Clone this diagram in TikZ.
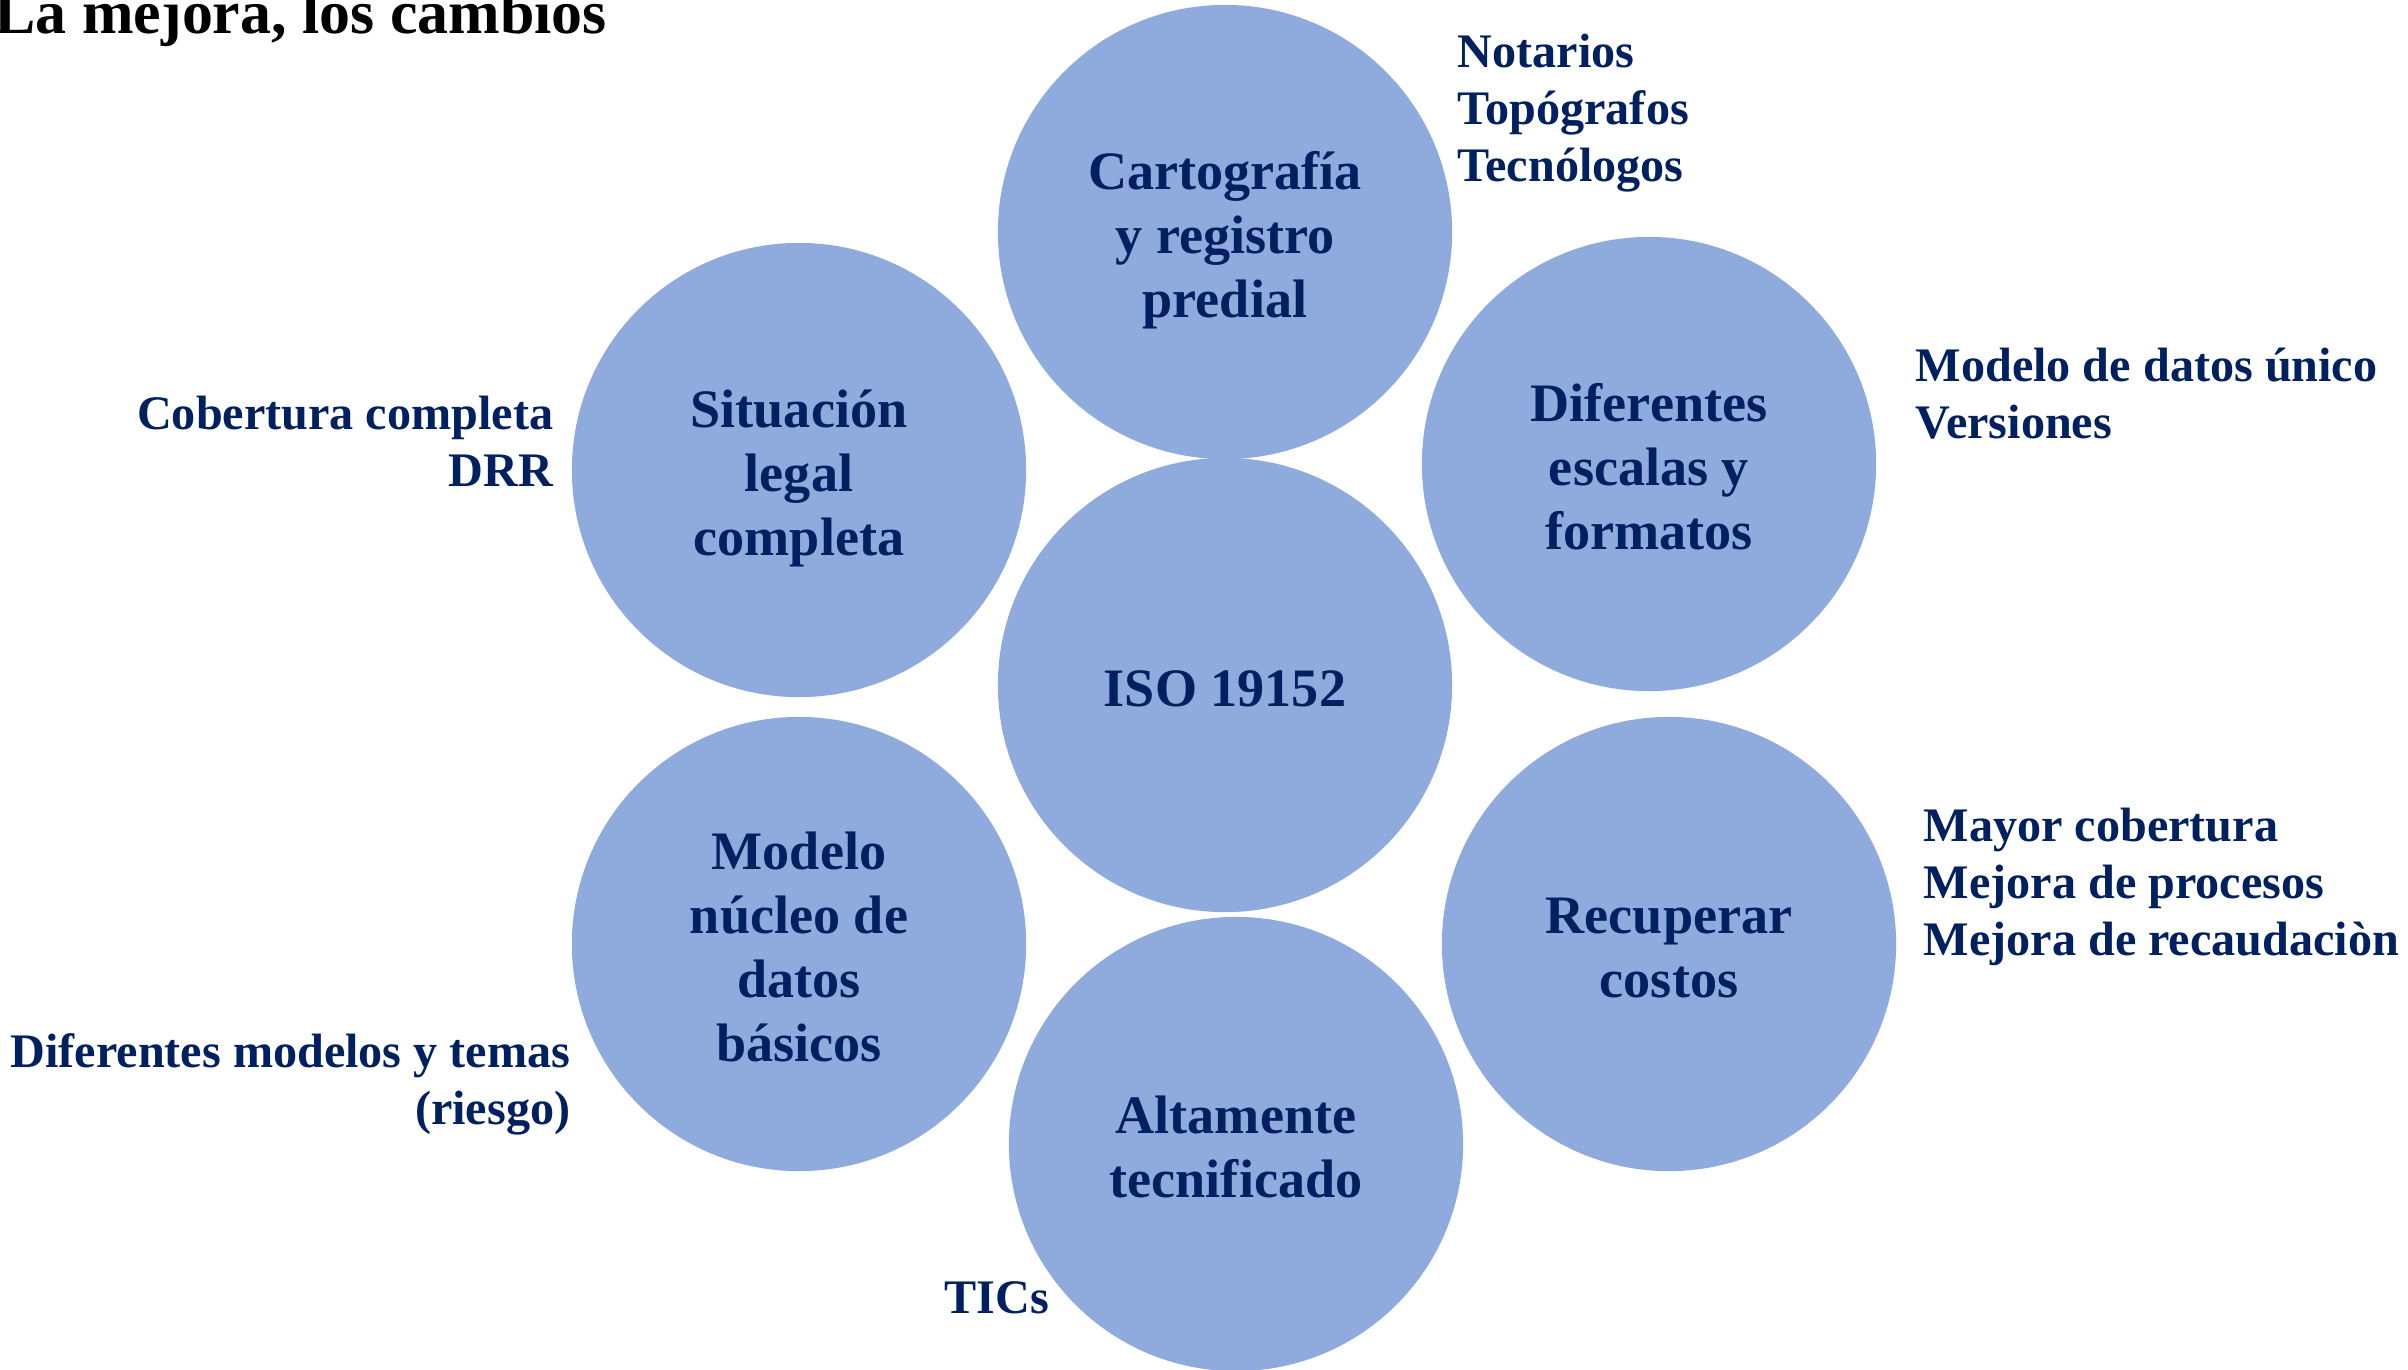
\documentclass[tikz,border=0pt]{standalone}
\usepackage{fontspec}
\setmainfont{Liberation Serif}

\definecolor{circfill}{HTML}{8FAADC}
\definecolor{navytext}{HTML}{002060}

% fixed line boxes so every circle text sits the same way
\newcommand{\ctext}[1]{\rule{0pt}{16pt}#1\rule[-4pt]{0pt}{4pt}}

\begin{document}
\begin{tikzpicture}[x=0.01cm, y=-0.01cm,
  main/.style = {circle, fill=circfill, minimum size=4.54cm, inner sep=0pt,
                 align=center, text=navytext,
                 font=\bfseries\fontsize{15.4}{18.2}\selectfont},
  side/.style = {text=navytext, inner sep=0pt,
                 font=\bfseries\fontsize{13.7}{16.2}\selectfont}]

\useasboundingbox (0, 0) rectangle (2408, 1369);

\node[anchor=base west, inner sep=0pt, font=\bfseries\fontsize{17.6}{20}\selectfont] (T) at (-6, 33) {La mejora, los cambios};

% circles
\node[main] (C1) at (1225, 232) {\ctext{Cartografía\\y registro\\predial}};
\node[main] (C2) at (799, 470) {\ctext{Situación\\legal\\completa}};
\node[main] (C3) at (1649, 464) {\ctext{Diferentes\\escalas y\\formatos}};
\node[main] (C0) at (1225, 685) {\ctext{ISO 19152}};
\node[main] (C4) at (799, 944) {\ctext{Modelo\\núcleo de\\datos\\básicos}};
\node[main] (C5) at (1669, 944) {\ctext{Recuperar\\costos}};
\node[main] (C6) at (1236, 1144) {\ctext{Altamente\\tecnificado}};

% labels
\node[side, anchor=west, align=left] (L1) at (1457, 113) {Notarios\\Topógrafos\\Tecnólogos};
\node[side, anchor=west, align=left] (L2) at (1915, 394) {Modelo de datos único\\Versiones};
\node[side, anchor=west, align=left] (L3) at (1923, 887) {Mayor cobertura\\Mejora de procesos\\Mejora de recaudaciòn};
\node[side, anchor=east, align=right] (L4) at (554, 441) {Cobertura completa\\DRR};
\node[side, anchor=east, align=right] (L5) at (571, 1084) {Diferentes modelos y temas\\(riesgo)};
\node[side, anchor=west] (L6) at (944, 1298) {TICs};

\end{tikzpicture}
\end{document}
